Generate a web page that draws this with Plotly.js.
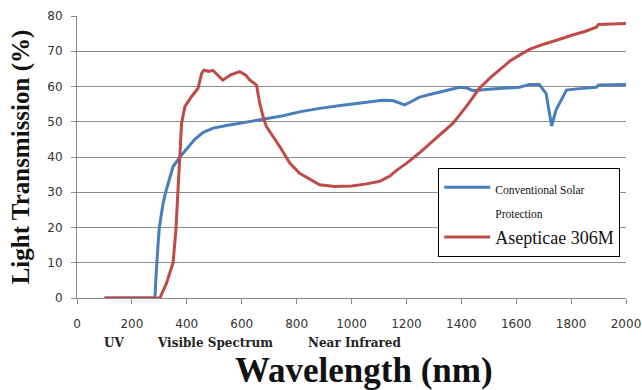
<!DOCTYPE html>
<html>
<head>
<meta charset="utf-8">
<script src="https://cdn.plot.ly/plotly-3.0.1.min.js"></script>
<style>html,body{margin:0;padding:0;background:#fff;}#chart{width:642px;height:390px;}</style>
</head>
<body>
<div id="chart"></div>
<script>
// Conventional Solar Protection (blue)
const blueX = [100, 284, 287, 290, 295, 300, 314, 323, 350, 375, 410, 429, 460, 496, 550, 593, 640, 690, 751, 810, 884, 960, 1040, 1113, 1150, 1180, 1194, 1215, 1248, 1300, 1350, 1394, 1420, 1442, 1500, 1560, 1612, 1648, 1684, 1709, 1721, 1729, 1745, 1783, 1830, 1892, 1900, 2000];
const blueY = [0, 0, 5, 10, 15, 20, 27, 30, 37.3, 40, 43.3, 45, 47, 48.2, 49, 49.6, 50.2, 50.8, 51.7, 52.8, 53.8, 54.6, 55.4, 56.1, 56, 55.2, 54.8, 55.6, 57, 58, 59, 59.8, 59.6, 58.8, 59.2, 59.5, 59.8, 60.6, 60.6, 58, 52.4, 48.8, 53.3, 59, 59.4, 59.8, 60.4, 60.6];
// Asepticae 306M (red)
const redX = [100, 302, 326, 350, 360, 366, 375, 381, 393, 417, 441, 454, 462, 480, 495, 531, 560, 593, 615, 630, 654, 665, 678, 690, 739, 775, 811, 884, 939, 1000, 1050, 1103, 1140, 1164, 1200, 1248, 1300, 1370, 1420, 1466, 1510, 1550, 1580, 1612, 1650, 1700, 1733, 1770, 1805, 1850, 1892, 1900, 2000];
const redY = [0, 0, 4.2, 10, 19, 28, 40, 49.6, 54.3, 57.1, 59.5, 63.7, 64.6, 64.3, 64.6, 61.8, 63.3, 64.2, 63.2, 61.8, 60.4, 55.5, 51.4, 48.6, 42.9, 38.3, 35.4, 32.1, 31.6, 31.8, 32.3, 33.1, 34.6, 36.2, 38.2, 41.2, 44.8, 49.6, 54.5, 59.5, 62.8, 65.5, 67.4, 68.9, 70.6, 72, 72.7, 73.7, 74.6, 75.6, 76.8, 77.6, 77.9];
const xTicks = [0, 200, 400, 600, 800, 1000, 1200, 1400, 1600, 1800, 2000];
const yTicks = [0, 10, 20, 30, 40, 50, 60, 70, 80];
const regionLabels = ['UV', 'Visible Spectrum', 'Near Infrared'];
const regionCenters = [136, 502, 1010];

const traces = [
  {x: blueX, y: blueY, mode: 'lines', name: '<span style="font-size:11.5px">Conventional Solar<br>Protection</span>',
   line: {color: '#4a7ebb', width: 3}},
  {x: redX, y: redY, mode: 'lines', name: 'Asepticae 306M',
   line: {color: '#be4b48', width: 3}}
];

const annotations = regionLabels.map((t, i) => ({
  text: '<b>' + t + '</b>', x: regionCenters[i], xref: 'x', y: 0, yref: 'paper',
  yanchor: 'middle', xanchor: 'center', yshift: -45, showarrow: false,
  font: {family: 'DejaVu Serif', size: 12, color: '#222'}
}));
annotations.push({
  text: '<b>Wavelength (nm)</b>', x: 0.5228, xref: 'paper', y: 0, yref: 'paper',
  yanchor: 'middle', xanchor: 'center', yshift: -72, showarrow: false,
  font: {family: 'Liberation Serif', size: 35, color: '#111'}
});

const layout = {
  width: 642, height: 390,
  margin: {l: 77, r: 16, t: 16, b: 92},
  paper_bgcolor: '#fff', plot_bgcolor: '#fff',
  showlegend: true,
  legend: {x: 0.658, y: 0.461, xanchor: 'left', yanchor: 'top', bordercolor: '#000', borderwidth: 1,
    bgcolor: '#fff', font: {family: 'Liberation Serif', size: 18, color: '#111'}, tracegroupgap: 0,
    itemwidth: 46, valign: 'top'},
  xaxis: {range: [0, 2000], tickvals: xTicks, ticks: 'outside', ticklen: 5, tickcolor: '#888',
    showline: true, linecolor: '#888', showgrid: false, zeroline: false, ticklabelstandoff: 10,
    tickfont: {family: 'DejaVu Sans', size: 12, color: '#333'}},
  yaxis: {range: [0, 80], tickvals: yTicks, ticks: 'outside', ticklen: 5, tickcolor: '#888',
    showline: true, linecolor: '#888', showgrid: true, gridcolor: '#8c8c8c', zeroline: false,
    ticklabelstandoff: 6,
    tickfont: {family: 'DejaVu Sans', size: 12, color: '#333'},
    title: {text: '<b>Light Transmission (%)</b>', font: {family: 'Liberation Serif', size: 25, color: '#111'}, standoff: 10}},
  annotations: annotations
};

Plotly.newPlot('chart', traces, layout, {displayModeBar: false, staticPlot: true});
</script>
</body>
</html>
